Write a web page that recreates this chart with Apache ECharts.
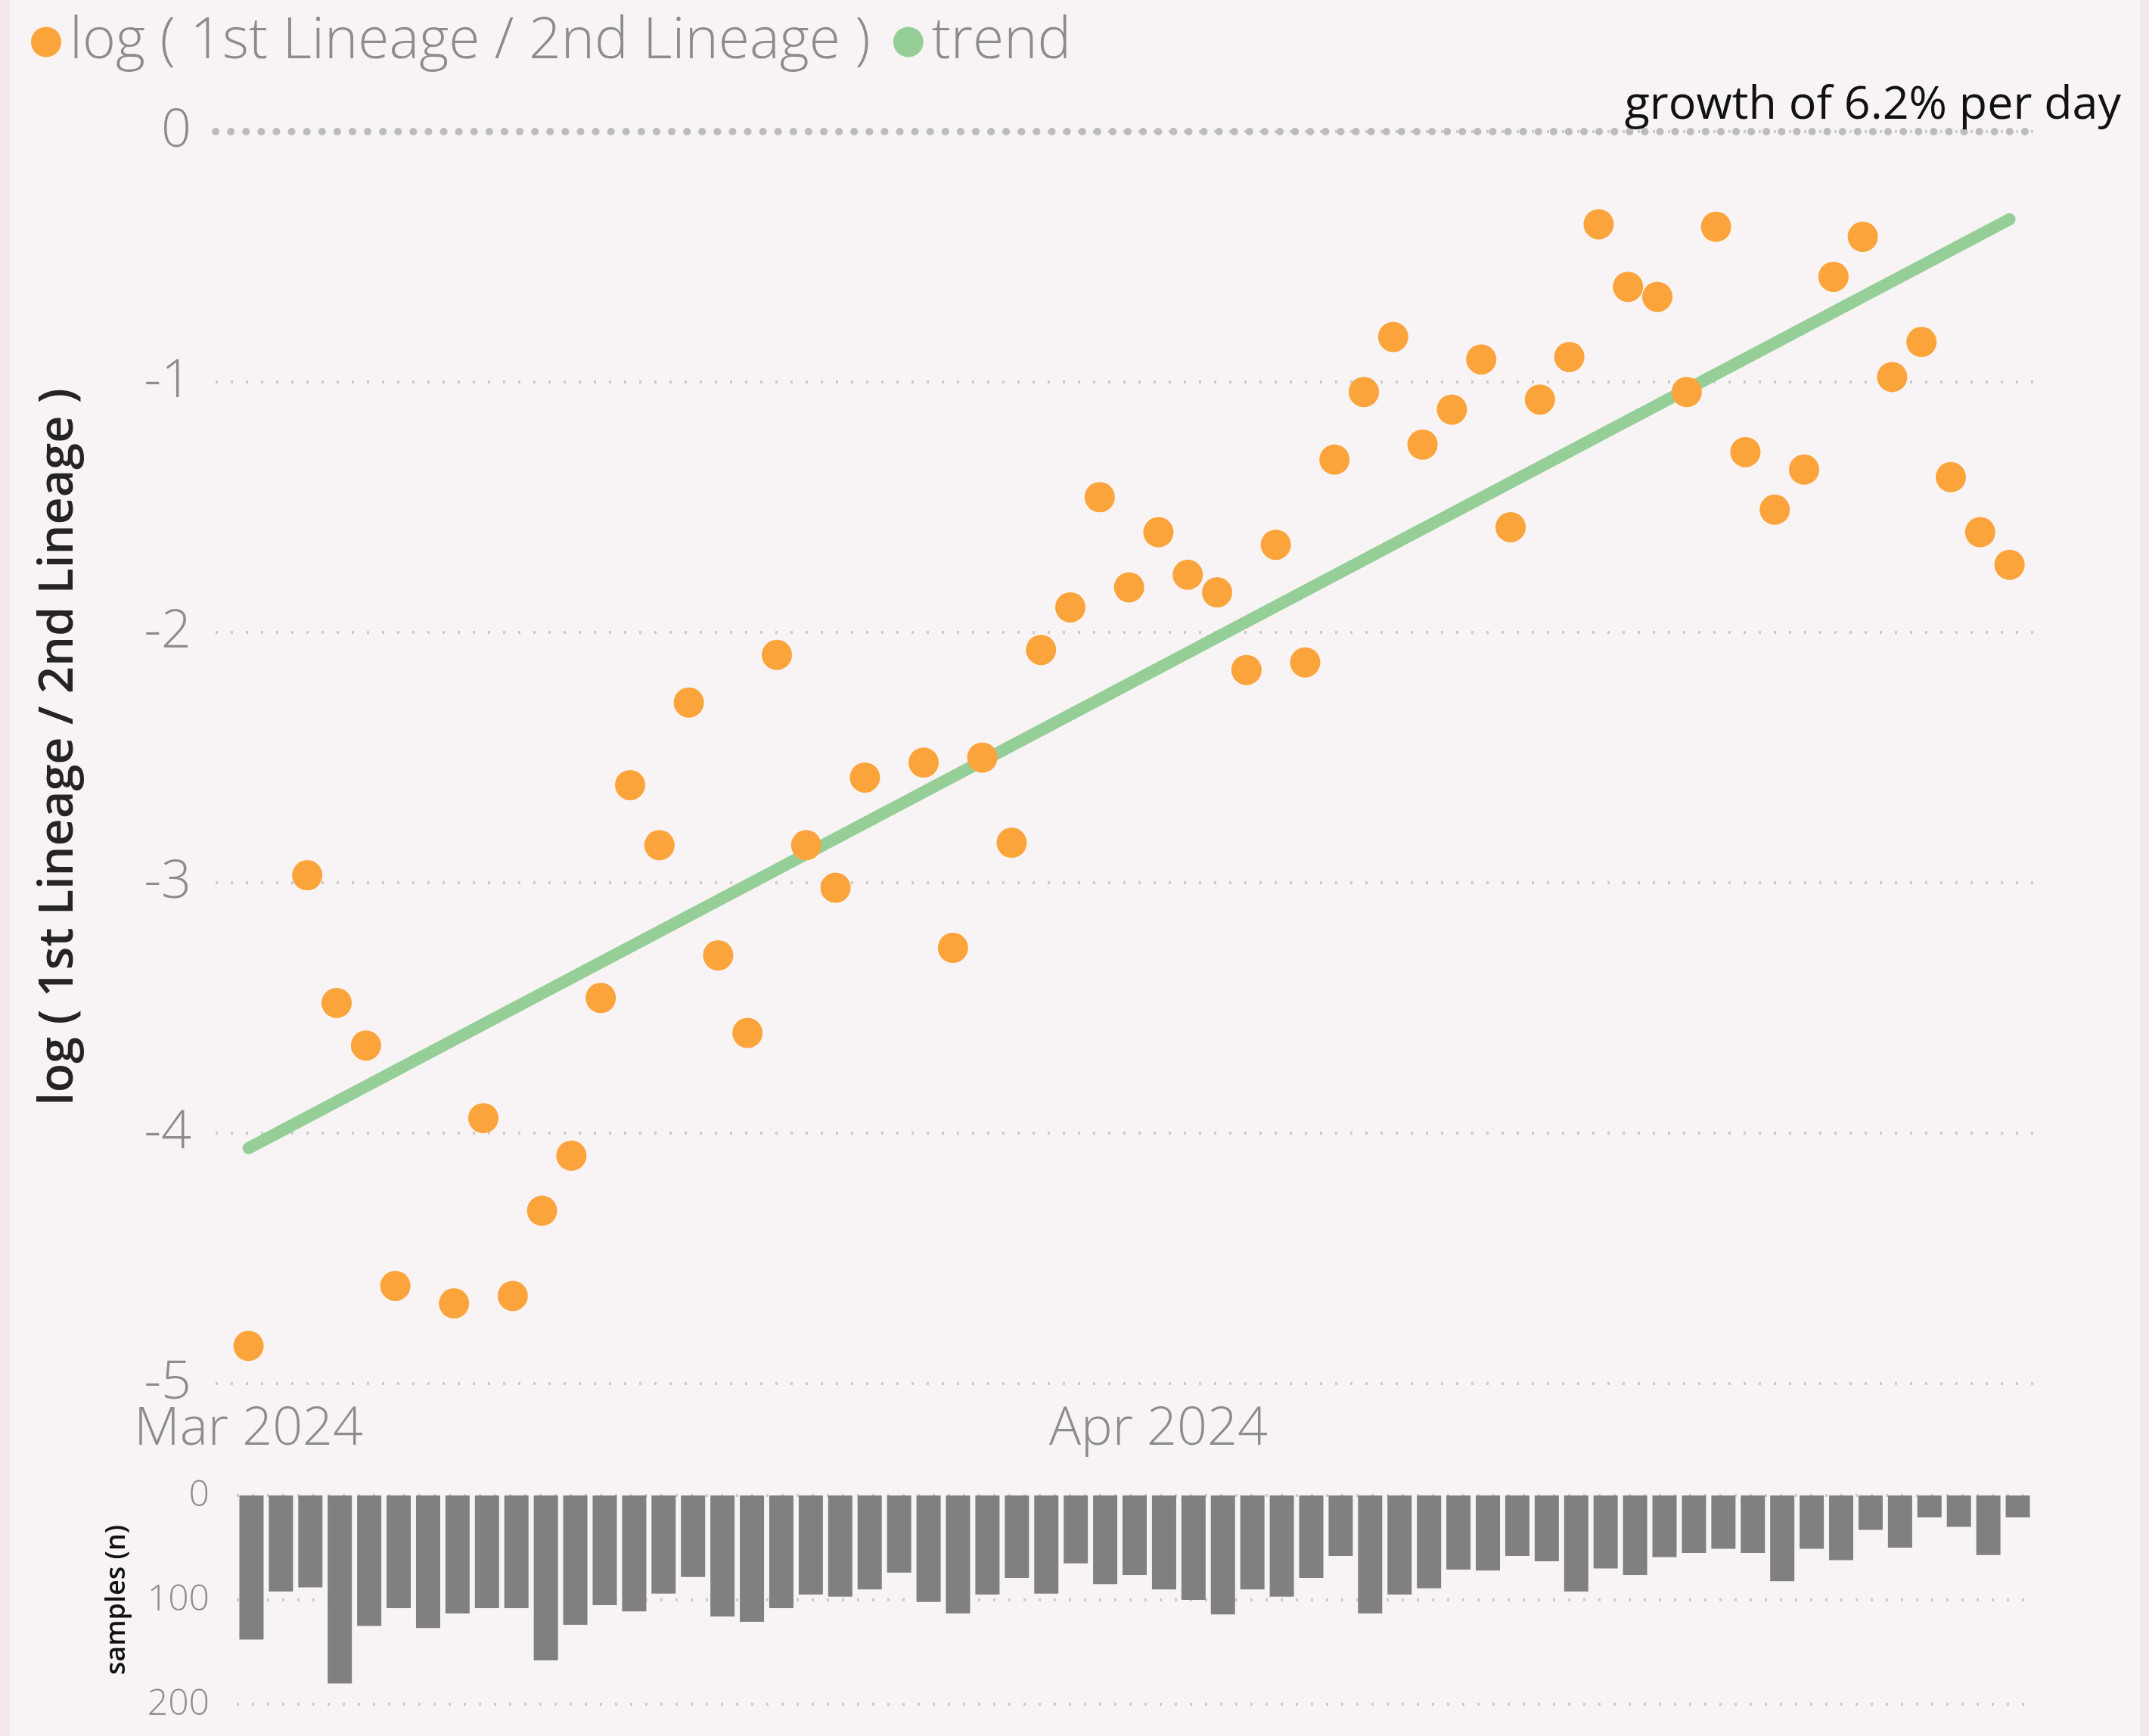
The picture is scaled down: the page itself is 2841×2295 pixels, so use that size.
<!DOCTYPE html>
<html>
<head>
<meta charset="utf-8">
<script src="https://cdn.jsdelivr.net/npm/echarts@6/dist/echarts.min.js"></script>
<style>
html,body{margin:0;padding:0;background:#F8F4F5;}
#chart{width:2841px;height:2295px;}
</style>
</head>
<body>
<div id="chart"></div>
<script>
// ---- data ----
const dates = [
 '2024-03-01','2024-03-02','2024-03-03','2024-03-04','2024-03-05','2024-03-06','2024-03-07','2024-03-08','2024-03-09','2024-03-10',
 '2024-03-11','2024-03-12','2024-03-13','2024-03-14','2024-03-15','2024-03-16','2024-03-17','2024-03-18','2024-03-19','2024-03-20',
 '2024-03-21','2024-03-22','2024-03-23','2024-03-24','2024-03-25','2024-03-26','2024-03-27','2024-03-28','2024-03-29','2024-03-30',
 '2024-03-31','2024-04-01','2024-04-02','2024-04-03','2024-04-04','2024-04-05','2024-04-06','2024-04-07','2024-04-08','2024-04-09',
 '2024-04-10','2024-04-11','2024-04-12','2024-04-13','2024-04-14','2024-04-15','2024-04-16','2024-04-17','2024-04-18','2024-04-19',
 '2024-04-20','2024-04-21','2024-04-22','2024-04-23','2024-04-24','2024-04-25','2024-04-26','2024-04-27','2024-04-28','2024-04-29',
 '2024-04-30'
];
const logRatio = [
 -4.85, null, -2.97, -3.48, -3.65, -4.61, null, -4.68, -3.94, -4.65,
 -4.31, -4.09, -3.46, -2.61, -2.85, -2.28, -3.29, -3.60, -2.09, -2.85,
 -3.02, -2.58, null, -2.52, -3.26, -2.50, -2.84, -2.07, -1.90, -1.46,
 -1.82, -1.60, -1.77, -1.84, -2.15, -1.65, -2.12, -1.31, -1.04, -0.82,
 -1.25, -1.11, -0.91, -1.58, -1.07, -0.90, -0.37, -0.62, -0.66, -1.04,
 -0.38, -1.28, -1.51, -1.35, -0.58, -0.42, -0.98, -0.84, -1.38, -1.60,
 -1.73
];
const samples = [
 138, 92, 88, 180, 125, 108, 127, 113, 108, 108,
 158, 124, 105, 111, 94, 78, 116, 121, 108, 95,
 97, 90, 74, 102, 113, 95, 79, 94, 65, 85,
 76, 90, 100, 114, 90, 97, 79, 58, 113, 95,
 89, 71, 72, 58, 63, 92, 70, 76, 59, 55,
 51, 55, 82, 51, 62, 33, 50, 21, 30, 57,
 21
];
const trendDates = ['2024-03-01', '2024-04-30'];
const trendValues = [-4.06, -0.35];
const xTickDates = ['2024-03-01', '2024-04-01'];
const xTickLabels = ['Mar 2024', 'Apr 2024'];
const seriesNames = ['log ( 1st Lineage / 2nd Lineage )', 'trend'];
const annotation = 'growth of 6.2% per day';

// ---- helpers: date -> day number since first date ----
const DAY = 86400000;
function utc(s){ const p = s.split('-').map(Number); return Date.UTC(p[0], p[1]-1, p[2]); }
const t0 = utc(dates[0]);
function dayNum(s){ return Math.round((utc(s) - t0) / DAY); }

const scatterData = dates.map((d,i) => logRatio[i] == null ? null : [dayNum(d), logRatio[i]]).filter(Boolean);
const trendData = trendDates.map((d,i) => [dayNum(d), trendValues[i]]);
const tickDays = xTickDates.map(dayNum);
const lastDay = dayNum(dates[dates.length-1]);

const gray = '#8c8c8c';
const lightFont = "'Open Sans', 'Noto Sans', sans-serif";
const gridLine = { show: true, lineStyle: { color: '#cbcbcb', width: 4, type: [3, 17] } };

const chart = echarts.init(document.getElementById('chart'), null, {renderer: 'canvas'});
chart.setOption({
  backgroundColor: '#F8F4F5',
  animation: false,
  textStyle: { fontFamily: lightFont },
  title: {
    text: annotation,
    right: 32, top: 104,
    textStyle: { color: '#111', fontSize: 61, fontWeight: 'normal', fontFamily: lightFont }
  },
  legend: {
    data: seriesNames,
    left: 36, top: 13,
    icon: 'circle',
    itemWidth: 40, itemHeight: 40, itemGap: 30,
    textStyle: { color: gray, fontSize: 75, fontWeight: 300, fontFamily: lightFont, padding: [0, 0, 0, 6] }
  },
  grid: [
    { left: 285, right: 151, top: 174, height: 1655 },
    { left: 313, right: 154, top: 1977, height: 276 }
  ],
  xAxis: [
    {
      type: 'value', gridIndex: 0,
      min: -1.124, max: lastDay + 0.86,
      axisLine: { show: false }, axisTick: { show: false }, splitLine: { show: false },
      axisLabel: {
        customValues: tickDays,
        color: gray, fontSize: 70, fontWeight: 300, margin: 26, fontFamily: lightFont,
        formatter: function(v){ const i = tickDays.indexOf(Math.round(v)); return i >= 0 ? xTickLabels[i] : ''; }
      }
    },
    {
      type: 'category', gridIndex: 1, data: dates,
      axisLine: { show: false }, axisTick: { show: false }, axisLabel: { show: false },
      splitLine: { show: false }
    }
  ],
  yAxis: [
    {
      type: 'value', gridIndex: 0, min: -5, max: 0, interval: 1,
      name: seriesNames[0], nameLocation: 'middle', nameRotate: 90, nameGap: 175,
      nameTextStyle: { color: '#252423', fontSize: 63, fontWeight: 600, fontFamily: lightFont, padding: [0, 0, 0, 28] },
      axisLine: { show: false }, axisTick: { show: false },
      axisLabel: { color: gray, fontSize: 70, fontWeight: 300, margin: 32, fontFamily: lightFont },
      splitLine: gridLine
    },
    {
      type: 'value', gridIndex: 1, min: 0, max: 200, interval: 100, inverse: true,
      name: 'samples (n)', nameLocation: 'middle', nameRotate: 90, nameGap: 140,
      nameTextStyle: { color: '#111', fontSize: 36, fontWeight: 600, fontFamily: lightFont },
      axisLine: { show: false }, axisTick: { show: false },
      axisLabel: { color: gray, fontSize: 48, fontWeight: 300, margin: 36, fontFamily: lightFont },
      splitLine: gridLine
    }
  ],
  series: [
    {
      name: seriesNames[1], type: 'line', xAxisIndex: 0, yAxisIndex: 0,
      data: trendData, showSymbol: false, symbol: 'none', z: 2,
      lineStyle: { color: '#95CF97', width: 16, cap: 'round' },
      itemStyle: { color: '#95CF97' }
    },
    {
      name: seriesNames[0], type: 'scatter', xAxisIndex: 0, yAxisIndex: 0,
      data: scatterData, symbolSize: 40, z: 3,
      itemStyle: { color: '#FBA43B', opacity: 1 },
      markLine: {
        silent: true, symbol: 'none', label: { show: false },
        lineStyle: { color: '#bcbcbc', width: 10, type: [0.1, 20], cap: 'round' },
        data: [{ yAxis: 0 }]
      }
    },
    {
      name: 'samples', type: 'bar', xAxisIndex: 1, yAxisIndex: 1,
      data: samples, barWidth: 32,
      itemStyle: { color: '#808080' }
    }
  ],
  graphic: [
    { type: 'rect', left: 0, top: 0, shape: { width: 13, height: 2295 }, style: { fill: '#F3E8EB' }, silent: true },
    { type: 'rect', right: 0, top: 0, shape: { width: 12, height: 2295 }, style: { fill: '#F3E8EB' }, silent: true }
  ]
});
</script>
</body>
</html>
